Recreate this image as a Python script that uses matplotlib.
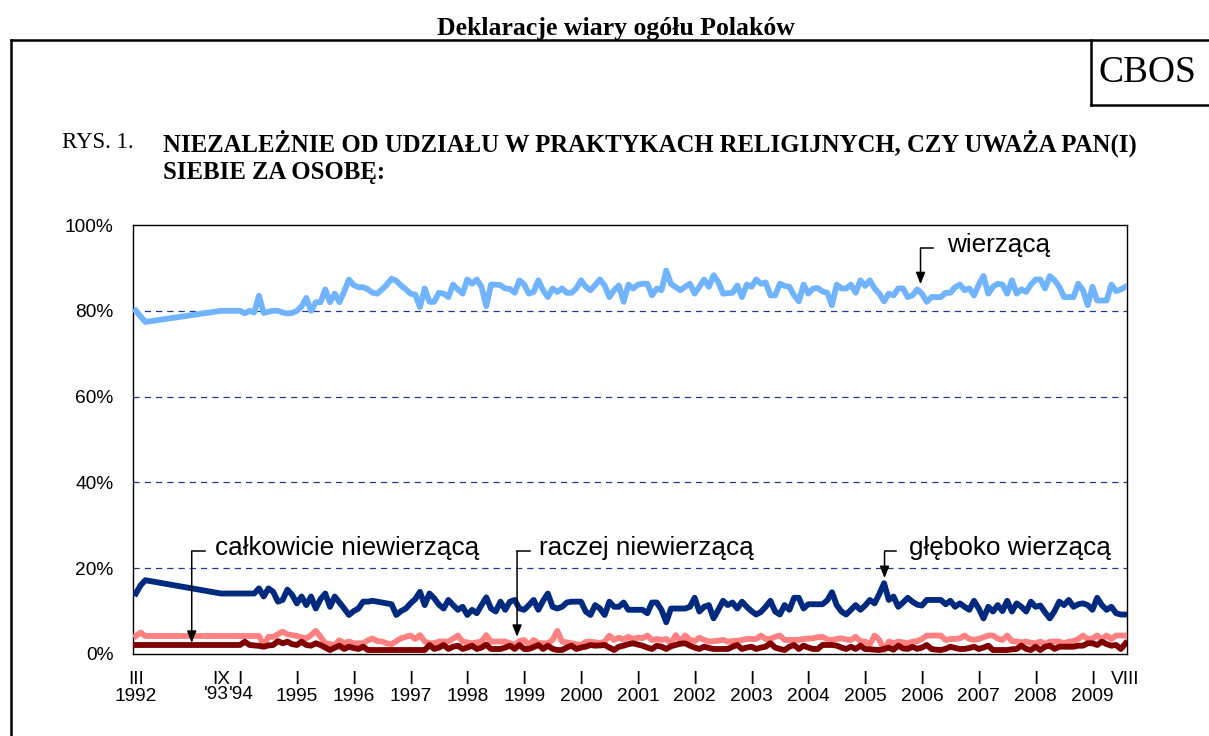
import matplotlib
matplotlib.use('Agg')
import matplotlib.pyplot as plt
from matplotlib.lines import Line2D
from matplotlib.transforms import blended_transform_factory

plt.rcParams['font.family'] = ['Liberation Sans', 'DejaVu Sans']

# months counted from I 1992 (0 = styczen 1992)
months = [2, 3, 4, 20] + list(range(24, 212))

wierzaca = [80.0, 78.7, 77.4, 80.0,
    80.0, 79.4, 80.0, 79.6, 83.5, 79.5, 79.8, 80.0, 80.0, 79.6, 79.4, 79.5, 80.0, 81.0, 83.0, 80.0,
    82.0, 82.0, 85.0, 82.0, 84.0, 82.0, 84.5, 87.3, 86.0, 85.5, 85.5, 85.0, 84.2,
    84.0, 85.0, 86.1, 87.5, 87.0, 85.9, 85.0, 84.0, 83.8, 80.9, 85.2, 82.1, 82.1, 84.2, 84.0, 83.2,
    86.1, 85.0, 84.0, 87.3, 86.3, 87.3, 85.6, 81.1, 86.1, 86.1, 86.0, 85.2, 85.1, 84.2, 87.1, 86.1,
    84.0, 84.4, 87.1, 84.8, 83.2, 85.2, 84.4, 85.2, 84.2, 84.2, 85.2, 87.1, 85.6, 84.8, 86.0, 87.3,
    85.9, 83.2, 84.8, 85.9,
    82.1, 86.1, 85.2, 86.1, 86.3, 86.3, 83.6, 85.2, 84.8, 89.4, 86.3, 85.5, 84.8, 85.6, 86.3, 84.0,
    85.6, 87.3, 85.6, 88.3, 86.7, 84.0, 84.1, 84.2, 85.9, 83.2, 86.1, 85.6, 87.3, 86.3, 86.6, 83.6,
    83.6, 86.3, 85.8, 85.6, 83.6, 82.2, 86.1, 84.0, 85.2, 85.3, 84.5, 84.2, 81.3, 86.1, 85.2, 85.2,
    86.1, 84.2, 87.1, 85.8,
    87.1, 85.2, 84.0, 82.2, 84.0, 83.6, 85.2, 85.2, 83.2, 83.6, 85.0, 84.0, 82.1, 83.2, 83.2, 83.2,
    84.2, 84.2, 85.5, 86.1, 84.8, 85.2, 83.6, 86.1, 88.1, 84.0, 85.6, 86.3, 86.1, 84.0, 87.1, 84.0,
    85.0, 84.4, 86.1, 87.3, 87.3, 85.2, 88.1, 87.1, 85.6, 83.2, 83.2, 83.2, 86.3, 84.8, 81.3, 85.6,
    82.4, 82.4, 82.4, 86.1, 84.6, 85.0, 85.6]

gleboko = [14.1, 16.0, 17.2, 14.1,
    14.1, 14.1, 14.1, 14.1, 15.3, 13.4, 15.3, 14.5, 12.2, 12.6, 15.0, 13.8, 11.8, 13.4, 11.4, 13.4,
    10.6, 12.8, 14.1, 11.0, 13.4, 12.0, 10.6, 9.1, 10.0, 10.6, 12.2, 12.2, 12.4,
    12.2, 12.0, 11.8, 11.6, 9.1, 10.0, 10.6, 11.8, 12.8, 14.5, 11.4, 14.1, 13.0, 11.5, 10.6, 12.6,
    11.4, 10.3, 11.0, 9.1, 10.3, 9.5, 11.4, 13.2, 10.6, 9.9, 12.2, 10.3, 12.2, 12.6, 10.6, 10.3,
    11.4, 12.6, 10.3, 12.4, 14.1, 11.0, 10.6, 11.0, 12.0, 12.2, 12.2, 12.2, 9.9, 9.1, 11.4, 10.6,
    9.1, 12.2, 11.0, 11.0,
    12.0, 10.3, 10.3, 10.3, 10.3, 9.5, 12.0, 12.0, 10.3, 7.4, 10.6, 10.6, 10.6, 10.6, 11.0, 13.1,
    9.9, 11.0, 11.4, 8.3, 10.3, 12.4, 11.4, 12.0, 10.6, 12.2, 11.0, 10.0, 9.2, 9.8, 11.0, 12.4,
    9.9, 9.2, 11.4, 10.3, 13.1, 13.1, 10.6, 11.6, 11.6, 11.6, 11.6, 12.5, 14.4, 11.4, 9.9, 9.2,
    10.3, 11.4, 10.3, 11.3,
    12.6, 11.8, 14.0, 16.5, 12.6, 13.4, 11.0, 12.0, 13.1, 12.2, 11.5, 11.3, 12.6, 12.6, 12.6, 12.6,
    11.6, 12.4, 11.0, 11.8, 11.0, 10.3, 12.4, 10.6, 8.3, 11.0, 9.9, 11.4, 10.0, 12.4, 9.9, 11.8,
    11.0, 9.9, 12.2, 11.0, 11.3, 9.7, 8.3, 10.0, 12.2, 11.4, 12.6, 11.0, 11.6, 11.8, 11.4, 10.3,
    13.1, 11.4, 10.3, 11.0, 9.5, 9.2, 9.2]

raczej_nie = [4.2, 5.0, 4.2, 4.2,
    4.2, 4.2, 4.2, 4.2, 4.2, 2.1, 4.0, 4.0, 4.6, 5.2, 4.6, 4.4, 4.2, 3.9, 3.65, 4.4,
    5.4, 4.0, 2.5, 2.3, 2.1, 3.2, 2.5, 2.9, 2.5, 2.5, 2.5, 3.2, 3.6,
    3.0, 2.9, 2.5, 2.3, 3.0, 3.65, 4.0, 4.3, 3.5, 4.4, 2.9, 2.5, 2.5, 2.9, 2.9, 2.9,
    3.6, 4.3, 2.9, 2.7, 2.5, 2.7, 2.9, 4.4, 2.9, 2.9, 2.9, 2.9, 2.5, 2.1, 3.0, 3.26,
    2.1, 3.26, 2.5, 2.5, 2.5, 3.26, 5.4, 2.9, 2.7, 2.5, 2.3, 2.1, 2.8, 2.87, 2.7, 2.6,
    2.87, 4.3, 3.26, 3.8,
    3.4, 4.0, 3.5, 3.8, 3.7, 4.3, 3.26, 3.5, 3.26, 3.5, 2.5, 4.4, 3.0, 4.3, 3.3, 3.0,
    3.8, 3.3, 2.9, 3.0, 3.1, 3.3, 2.9, 3.0, 3.1, 3.26, 3.5, 3.5, 3.5, 4.3, 3.5, 3.5,
    4.0, 4.3, 3.26, 3.26, 3.26, 3.3, 3.5, 3.6, 3.65, 3.9, 4.0, 3.4, 3.26, 3.5, 3.65, 3.4,
    3.26, 4.0, 3.0, 2.87,
    2.3, 4.3, 3.3, 0.9, 2.9, 2.5, 2.9, 2.7, 2.5, 2.9, 3.0, 3.5, 4.3, 4.3, 4.3, 4.3,
    3.26, 3.5, 3.5, 3.65, 4.3, 3.5, 3.3, 3.5, 3.9, 4.3, 4.3, 3.6, 3.26, 4.3, 3.0, 2.9,
    2.7, 2.9, 2.6, 2.5, 2.9, 2.3, 2.9, 2.9, 2.87, 2.5, 2.87, 3.0, 3.5, 4.3, 3.5, 3.6,
    4.3, 3.5, 4.3, 3.5, 4.3, 4.3, 4.3]

calkowicie_nie = [2.1, 2.1, 2.1, 2.1,
    2.1, 2.87, 2.1, 2.0, 1.9, 1.7, 2.0, 2.1, 3.0, 2.5, 2.87, 2.3, 2.1, 2.87, 2.1, 1.94,
    2.5, 2.1, 1.5, 0.93, 1.47, 1.94, 1.17, 1.7, 1.4, 1.17, 1.7, 0.93, 0.93,
    0.93, 0.93, 0.93, 0.93, 0.93, 0.93, 0.93, 0.93, 0.93, 0.93, 0.93, 2.1, 1.17, 1.5, 2.1, 1.17,
    1.7, 1.94, 1.17, 1.5, 1.94, 1.17, 1.5, 2.2, 1.17, 1.17, 1.17, 1.5, 1.94, 1.17, 2.1, 1.17,
    1.17, 1.6, 2.1, 1.17, 1.94, 1.2, 0.93, 0.93, 1.5, 1.94, 1.17, 1.5, 1.7, 2.1, 1.94, 2.0,
    2.1, 1.5, 0.93, 1.7,
    1.94, 2.3, 2.5, 2.2, 1.94, 1.5, 1.17, 1.94, 1.7, 1.17, 1.8, 2.1, 2.4, 2.5, 1.94, 1.5,
    1.17, 1.7, 1.4, 1.17, 1.17, 1.17, 1.17, 1.7, 2.1, 1.17, 1.5, 1.7, 1.17, 1.5, 1.7, 2.5,
    1.5, 1.17, 0.93, 1.7, 2.1, 1.17, 1.94, 1.5, 1.17, 1.17, 2.1, 2.1, 2.1, 1.94, 1.5, 1.17,
    1.7, 1.17, 1.94, 1.17,
    1.1, 1.0, 0.93, 1.2, 1.47, 1.0, 1.94, 1.3, 1.17, 1.7, 1.2, 1.5, 2.1, 1.17, 1.0, 0.93,
    1.2, 1.7, 1.4, 1.17, 1.17, 1.4, 1.7, 1.17, 1.5, 1.94, 0.93, 0.93, 0.93, 0.93, 1.1, 1.17,
    1.94, 1.2, 0.93, 1.7, 0.93, 1.7, 1.94, 1.17, 1.7, 1.7, 1.7, 1.7, 1.94, 1.94, 2.5, 2.5,
    2.1, 2.87, 2.3, 1.94, 2.1, 1.17, 2.5]

tick_months = [2, 20, 24, 36, 48, 60, 72, 84, 96, 108, 120, 132, 144, 156, 168, 180, 192, 204, 211]
tick_labels = ['III\n1992', 'IX', 'I', 'I\n1995', 'I\n1996', 'I\n1997', 'I\n1998',
               'I\n1999', 'I\n2000', 'I\n2001', 'I\n2002', 'I\n2003', 'I\n2004', 'I\n2005',
               'I\n2006', 'I\n2007', 'I\n2008', 'I\n2009', 'VIII']

W, H = 1209, 736
fig = plt.figure(figsize=(W / 100, H / 100), dpi=100)
ax = fig.add_axes([133 / W, 1 - 654 / H, (1127 - 133) / W, (654 - 225) / H])

def fline(x1, y1, x2, y2, lw=1.8):
    fig.add_artist(Line2D([x1 / W, x2 / W], [1 - y1 / H, 1 - y2 / H],
                          transform=fig.transFigure, color='black', lw=lw))

# ramka strony i okienko CBOS
fline(11, 40, 1209, 40)
fline(11, 40, 11, 736)
fline(1091, 40, 1091, 105)
fline(1091, 105, 1209, 105)

serif = ['Liberation Serif', 'DejaVu Serif']
fig.text(616 / W, 1 - 28 / H, 'Deklaracje wiary ogółu Polaków', ha='center', va='center',
         family=serif, fontweight='bold', fontsize=18.5)
fig.text(1147 / W, 1 - 73 / H, 'CBOS', ha='center', va='center', family=serif, fontsize=27)
fig.text(62 / W, 1 - 143 / H, 'RYS. 1.', ha='left', va='center', family=serif, fontsize=16.5)
fig.text(163 / W, 1 - 143 / H, 'NIEZALEŻNIE OD UDZIAŁU W PRAKTYKACH RELIGIJNYCH, CZY UWAŻA PAN(I)',
         ha='left', va='center', family=serif, fontweight='bold', fontsize=17.8)
fig.text(163 / W, 1 - 173 / H, 'SIEBIE ZA OSOBĘ:', ha='left', va='center', family=serif,
         fontweight='bold', fontsize=17.8)

for v in [20, 40, 60, 80]:
    ax.axhline(v, color='#1F3A8F', lw=0.9, ls=(0, (5, 4)), zorder=1)

ax.plot(months, wierzaca, color='#70B4FF', lw=4.2, zorder=3)
ax.plot(months, gleboko, color='#002A7F', lw=4.2, zorder=3)
ax.plot(months, raczej_nie, color='#FF8080', lw=4.2, zorder=3)
ax.plot(months, calkowicie_nie, color='#800000', lw=4.2, zorder=4)

ax.set_xlim(1.4, 211.3)
ax.set_ylim(0, 100)
ax.set_yticks([0, 20, 40, 60, 80, 100])
ax.set_yticklabels([f'{v}%' for v in [0, 20, 40, 60, 80, 100]])
ax.set_xticks(tick_months)
ax.set_xticklabels(tick_labels)
for lbl in ax.get_xticklabels():
    lbl.set_linespacing(1.0)
ax.tick_params(axis='x', length=0, pad=12, labelsize=13.8)
ax.tick_params(axis='y', length=0, pad=14, labelsize=13.8)
for s in ax.spines.values():
    s.set_color('black')
    s.set_linewidth(1.0)

# lata '93 i '94 stoja tuz obok siebie
trans = blended_transform_factory(ax.transData, ax.transAxes)
ax.text(21.6, -0.0935, "'93", transform=trans, ha='right', va='center', fontsize=13.8)
ax.text(21.7, -0.0935, "'94", transform=trans, ha='left', va='center', fontsize=13.8)

def label(text, m_arrow, v_corner, v_tip, m_end, m_text, v_text):
    ax.plot([m_arrow, m_end], [v_corner, v_corner], color='black', lw=1.1, zorder=5)
    ax.annotate('', xy=(m_arrow, v_tip), xytext=(m_arrow, v_corner),
                arrowprops=dict(arrowstyle='-|>,head_length=0.7,head_width=0.28',
                                color='black', lw=1.1, shrinkA=0, shrinkB=0), zorder=5)
    ax.text(m_text, v_text, text, ha='left', va='center', fontsize=18.8)

label('wierzącą', 167.7, 94.6, 86.2, 170.4, 173.2, 95.3)
label('całkowicie niewierzącą', 13.8, 23.9, 2.6, 16.6, 18.7, 24.7)
label('raczej niewierzącą', 82.5, 23.9, 4.0, 85.3, 87.2, 24.7)
label('głęboko wierzącą', 160.1, 23.9, 17.7, 162.6, 165.2, 24.7)

fig.savefig('out.png', dpi=100)
